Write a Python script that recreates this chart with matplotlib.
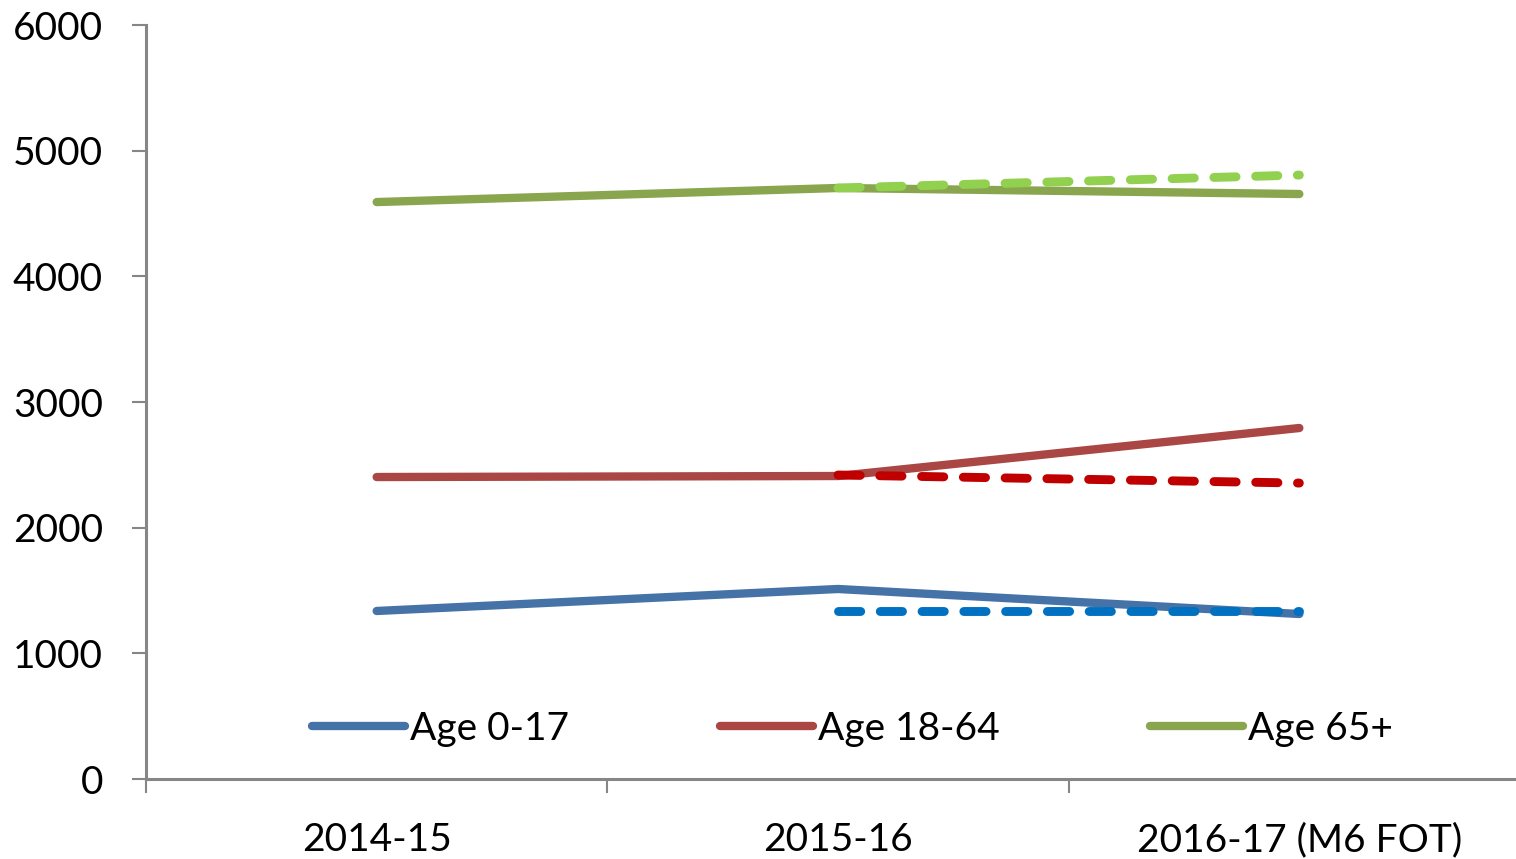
import matplotlib
matplotlib.use('Agg')
import matplotlib.pyplot as plt
import numpy as np

plt.rcParams['font.family'] = ['Lato', 'DejaVu Sans']

years = ['2014-15', '2015-16', '2016-17 (M6 FOT)']
labels = ['Age 0-17', 'Age 18-64', 'Age 65+']
actual = [
    [1337, 1512, 1313],
    [2403, 2411, 2793],
    [4591, 4703, 4655],
]
# dashed comparison lines, from 2015-16 onwards
trend = [
    [1337, 1337],
    [2419, 2355],
    [4703, 4806],
]
solid_colors = ['#4572A7', '#AA4643', '#89A54E']
dash_colors = ['#0070C0', '#C00000', '#92D050']

fig = plt.figure(figsize=(15.16, 8.59), dpi=100)
ax = fig.add_axes([146 / 1516, 1 - 779 / 859, 1384 / 1516, (779 - 25) / 859])

x = np.arange(len(years))
handles = []
for i in range(3):
    h, = ax.plot(x, actual[i], color=solid_colors[i], lw=6, solid_capstyle='round',
                 label=labels[i], zorder=2)
    handles.append(h)
for i in range(3):
    ax.plot(x[1:], trend[i], color=dash_colors[i], lw=6.4, dash_capstyle='round',
            dashes=(2.5, 2.2), zorder=3)

ax.set_xlim(-0.5, 2.5)
ax.set_ylim(0, 6000)
ax.set_yticks(np.arange(0, 6001, 1000))
ax.set_xticks([-0.5, 0.5, 1.5, 2.5])
ax.set_xticklabels([])
ax.set_xticks(x, minor=True)
ax.set_xticklabels(years, minor=True)

for s in ['top', 'right']:
    ax.spines[s].set_visible(False)
for s in ['left', 'bottom']:
    ax.spines[s].set_color('#868686')
    ax.spines[s].set_linewidth(2.2)
    ax.spines[s].set_zorder(1)

ax.tick_params(axis='y', which='major', length=10, width=1.5, color='#868686',
               labelsize=28, pad=21)
ax.tick_params(axis='x', which='major', length=10, width=1.5, color='#868686')
ax.tick_params(axis='x', which='minor', length=0, labelsize=28, pad=31)

fig.legend(handles=handles, loc='center left', bbox_to_anchor=(312 / 1516, 1 - 729 / 859),
           ncol=3, frameon=False, fontsize=28, handlelength=2.4, handletextpad=0.13,
           columnspacing=3.86, borderpad=0, borderaxespad=0)

fig.savefig('out.png', dpi=100)
